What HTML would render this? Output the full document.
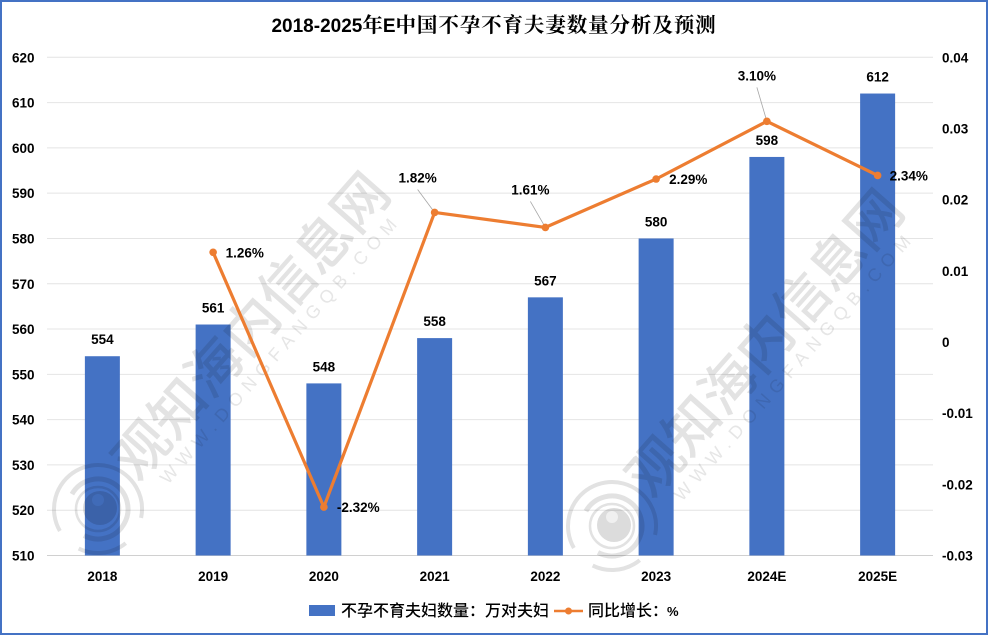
<!DOCTYPE html>
<html>
<head>
<meta charset="utf-8">
<style>
html,body{margin:0;padding:0;background:#fff;}
svg{display:block;}
text{font-family:"Liberation Sans","Noto Sans CJK SC",sans-serif;font-weight:bold;fill:#000;}
#wm{mix-blend-mode:multiply;}
</style>
</head>
<body>
<svg id="chart" width="988" height="635" viewBox="0 0 988 635" xmlns="http://www.w3.org/2000/svg">
<rect x="1" y="1" width="986" height="633" fill="#fff" stroke="#4472c4" stroke-width="2"/>
<text x="494" y="32" text-anchor="middle" font-size="19"><tspan>2018-2025</tspan><tspan style="font-family:'Noto Serif CJK SC',serif;font-weight:700" font-size="20.5">年</tspan><tspan>E</tspan><tspan style="font-family:'Noto Serif CJK SC',serif;font-weight:700" font-size="20.5" letter-spacing="0.9">中国不孕不育夫妻数量分析及预测</tspan></text>
<g id="grid"></g>
<g id="bars"></g>
<g id="wm"></g>
<g id="leaders"></g>
<g id="line"></g>
<g id="labels"></g>
<g id="axes"></g>
<g>
<rect x="309" y="605" width="26" height="11" fill="#4472c4"/>
<text x="341" y="616" font-size="16" style="font-weight:500">不孕不育夫妇数量：万对夫妇</text>
<line x1="554" y1="611" x2="583" y2="611" stroke="#ed7d31" stroke-width="2.5"/>
<circle cx="568.5" cy="611" r="3.5" fill="#ed7d31"/>
<text x="588" y="616" font-size="16" style="font-weight:500">同比增长：<tspan font-size="13" dx="-1" style="font-weight:700">%</tspan></text>
</g>
</svg>
<script>
const categories = ["2018","2019","2020","2021","2022","2023","2024E","2025E"];
const barValues = [554,561,548,558,567,580,598,612];
const growthValues = [null,0.0126,-0.0232,0.0182,0.0161,0.0229,0.0310,0.0234];
const growthLabels = ["","1.26%","-2.32%","1.82%","1.61%","2.29%","3.10%","2.34%"];
const leftTicks = [510,520,530,540,550,560,570,580,590,600,610,620];
const rightTicks = [-0.03,-0.02,-0.01,0,0.01,0.02,0.03,0.04];

const NS = "http://www.w3.org/2000/svg";
const plotLeft = 47, plotRight = 933, plotTop = 57.3, plotBottom = 555.5;
const xScale = i => plotLeft + (plotRight - plotLeft) * (i + 0.5) / categories.length;
const yLeft = v => plotBottom - (v - 510) / 110 * (plotBottom - plotTop);
const yRight = v => plotBottom - (v + 0.03) / 0.07 * (plotBottom - plotTop);
function mk(parent, tag, attrs, txt){
  const el = document.createElementNS(NS, tag);
  for (const k in attrs) el.setAttribute(k, attrs[k]);
  if (txt !== undefined) el.textContent = txt;
  document.getElementById(parent).appendChild(el);
  return el;
}

leftTicks.forEach(t => {
  const g = mk("grid","line",{x1:plotLeft,x2:plotRight,y1:yLeft(t),y2:yLeft(t),stroke:t===510?"#d0d0d0":"#e4e4e4","stroke-width":1});
  
  
  const l = mk("axes","text",{x:12,y:yLeft(t)+5,"font-size":13.5},t);
  
  
});
rightTicks.forEach(t => {
  const l = mk("axes","text",{x:942,y:yRight(t)+5,"font-size":13.5},t);
  
  
});
categories.forEach((c,i) => {
  const l = mk("axes","text",{x:xScale(i),y:581,"text-anchor":"middle","font-size":13.5},c);
  
  
});
barValues.forEach((v,i) => {
  const b = mk("bars","rect",{x:xScale(i)-17.5,y:yLeft(v),width:35,height:plotBottom-yLeft(v),fill:"#4472c4"});
  
  
  const l = mk("labels","text",{x:xScale(i),y:yLeft(v)-12,"text-anchor":"middle","font-size":13.5},v);
  
  
});
const pts = [];
growthValues.forEach((v,i) => { if (v !== null) pts.push([xScale(i), yRight(v)]); });
const poly = mk("line","polyline",{points:pts.map(p=>p.join(",")).join(" "),fill:"none",stroke:"#ed7d31","stroke-width":3.2,"stroke-linejoin":"round"});


pts.forEach(p => {
  const c = mk("line","circle",{cx:p[0],cy:p[1],r:3.8,fill:"#ed7d31"});
  
  
});
// label placement relative to each growth point: dx, dy, and whether a leader line is drawn
const placeRight = {1:[12.5,5],2:[13,5],5:[13,5],7:[12,5]};
const placeAbove = {3:[-17,-30],4:[-15,-33],6:[-10,-41]};
growthValues.forEach((v,i) => {
  if (v === null) return;
  const x = xScale(i), y = yRight(v);
  const off = placeRight[i] || placeAbove[i];
  const t = mk("labels","text",{x:x+off[0],y:y+off[1],"font-size":13.5,"text-anchor":placeAbove[i]?"middle":"start"},growthLabels[i]);
  
  
  if (placeAbove[i]) {
    const ld = mk("leaders","line",{x1:x+off[0],y1:y+off[1]+7,x2:x,y2:y,stroke:"#a6a6a6","stroke-width":0.8});
    
    
  }
});
// watermarks
const wmOffsets = [[0,0],[514,17]];
wmOffsets.forEach(o => {
  const g = mk("wm","g",{transform:"translate("+o[0]+","+o[1]+")"});
  
  
  const add = (tag,attrs,txt) => {
    const el = document.createElementNS(NS,tag);
    for (const k in attrs) el.setAttribute(k,attrs[k]);
    if (txt !== undefined) el.textContent = txt;
    g.appendChild(el);
    return el;
  };
  const cn = add("text",{transform:"translate(138,483) rotate(-48.5)","font-size":55,style:"fill:#e3e3e3;font-family:'Noto Sans CJK SC',sans-serif;font-weight:500"},"观知海内信息网");
  
  
  const en = add("text",{transform:"translate(168,485) rotate(-48.5)","font-size":18,"letter-spacing":6.8,style:"fill:#e6e6e6;font-weight:400"},"WWW.DONGFANGQB.COM");
  
  
  const ring = (r,w,d,rot) => add("circle",{cx:98,cy:509,r:r,fill:"none",stroke:"#e2e2e2","stroke-width":w,"stroke-dasharray":d||"none",transform:"rotate("+(rot||0)+" 98 509)"});
  ring(44,4,"170 30 50 26",150);
  ring(30,5,"140 48",210);
  ring(22,2.5);
  add("circle",{cx:100,cy:508,r:17,fill:"#dcdcdc"});
  add("circle",{cx:98,cy:500,r:6,fill:"#f0f0f0"});
});
</script>
</body>
</html>
